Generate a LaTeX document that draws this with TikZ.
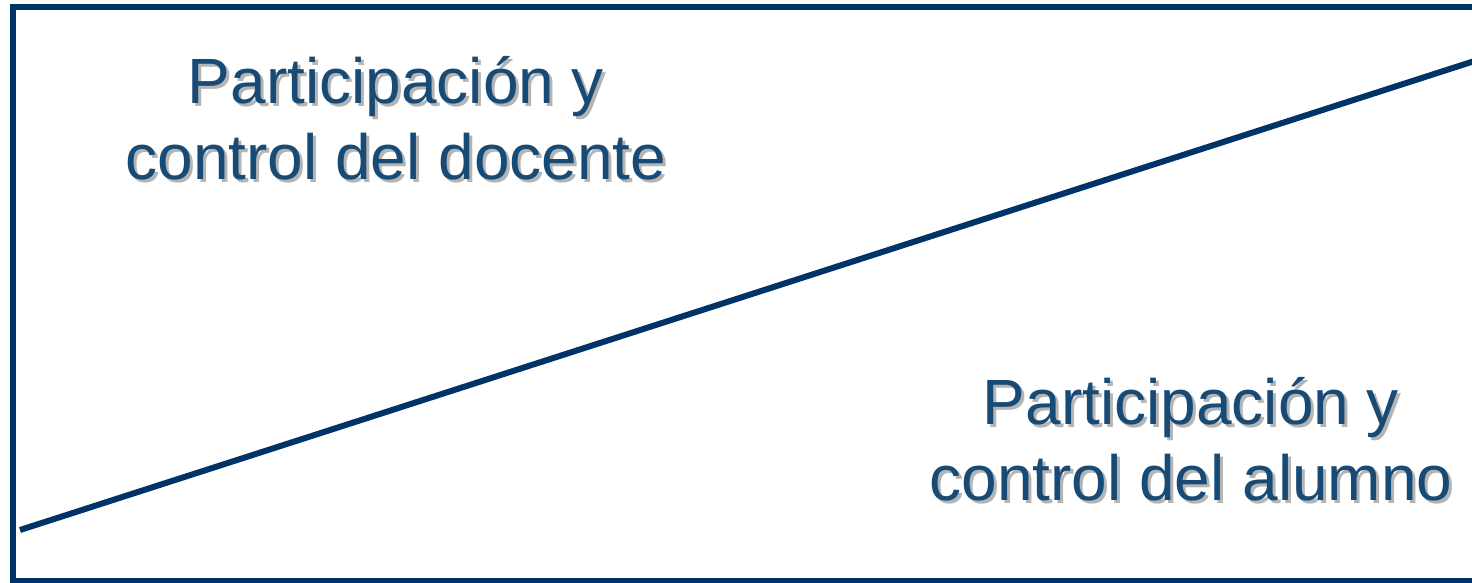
\documentclass[tikz,border=0pt]{standalone}
\usepackage{fontspec}
\setmainfont{Liberation Sans}
\usetikzlibrary{positioning}
\definecolor{navy}{HTML}{003366}
\definecolor{inkblue}{HTML}{174B75}
\definecolor{shade}{HTML}{B4B4B4}
\tikzstyle{label} = [align=center, inner sep=0pt, anchor=base, font=\fontsize{64}{76}\selectfont]
\tikzstyle{divider} = [line width=6pt, draw=navy]

\begin{document}
\begin{tikzpicture}[x=1pt, y=1pt]
			\useasboundingbox (0,0) rectangle (1472,582);
			\clip (0,0) rectangle (1472,582);
			\draw [line width=6pt, draw=navy] (12.5,1) rectangle (1480,574.5);
			
			% text with a grey shadow behind
			\node[label, text=shade] at (399,399) {Participación y\\control del docente};
			\node[label, text=inkblue] (docente) at (396,402) {Participación y\\control del docente};
			\node[label, text=shade] at (1194,79) {Participación y\\control del alumno};
			\node[label, text=inkblue] (alumno) at (1191,82) {Participación y\\control del alumno};
			
			\coordinate (low) at (20,52);
			\coordinate (high) at (1490,526);
			\draw [divider] (low) -- (high);
			
		\end{tikzpicture}
\end{document}
